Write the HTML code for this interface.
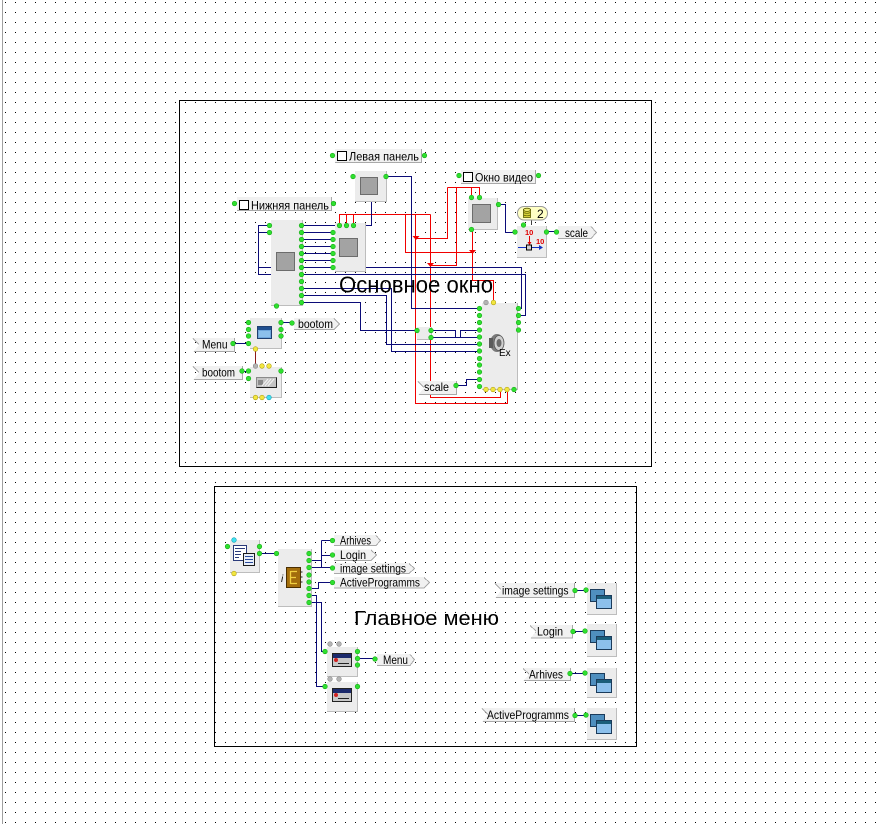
<!DOCTYPE html>
<html><head><meta charset="utf-8">
<style>
html,body{margin:0;padding:0;background:#fff;}
svg{display:block;}
text{font-family:"Liberation Sans","DejaVu Sans",sans-serif;fill:#000;}
.lb{font-size:12px;}
.bk{fill:#ececec;}
.bs{fill:none;stroke:#bdbdbd;}
.sq{fill:#a3a3a3;stroke:#6c6c6c;}
.lab{fill:#f1f1f1;}
.lbs{fill:none;stroke:#a9a9a9;}
.g{fill:#2fe02f;stroke:#1aa81a;stroke-width:.6;}
.y{fill:#f2e640;stroke:#b0a010;stroke-width:.6;}
.gr{fill:#b4b4b4;stroke:#888;stroke-width:.6;}
.c{fill:#3fe0f0;stroke:#1a9fb0;stroke-width:.6;}
.bw{fill:none;stroke:#0b0b78;stroke-width:1;}
.rw{fill:none;stroke:#f00000;stroke-width:1;}
</style></head><body>
<svg width="877" height="824" viewBox="0 0 877 824" xmlns="http://www.w3.org/2000/svg">
<defs>
<pattern id="grid" x="5" y="2" width="10" height="10" patternUnits="userSpaceOnUse"><rect width="1" height="1" fill="#000"/></pattern>
</defs>
<rect width="877" height="824" fill="#fff"/>
<rect width="877" height="824" fill="url(#grid)"/>
<rect x="2" y="0" width="1" height="824" fill="#a0a0a0"/>

<!-- frames -->
<rect x="179.5" y="100.5" width="472" height="366" fill="none" stroke="#000" shape-rendering="crispEdges"/>
<rect x="214.5" y="486.5" width="422" height="260" fill="none" stroke="#000" shape-rendering="crispEdges"/>

<!-- ===== FRAME 1 WIRES ===== -->
<g shape-rendering="crispEdges">
<!-- red -->
<path class="rw" d="M339.5,225 V214.5 H430.5 M346.5,225 V214.5 M353.5,225 V214.5"/>
<path class="rw" d="M405.5,214.5 V252.5 H472.5"/>
<path class="rw" d="M472.5,229 V280.5 H493.5 V302"/>
<path class="rw" d="M415.5,214.5 V403.5 H507.5 V390"/>
<path class="rw" d="M430.5,214.5 V397.5 H500.5 V390"/>
<path class="rw" d="M447.5,187.5 H479.5 V197 M471.5,197 V187.5 M447.5,187.5 V238.5 H415.5"/>
<path class="rw" d="M456.5,187.5 V265.5 H430.5"/>
<!-- blue -->
<path class="bw" d="M386,176.5 H411.5 V308.5 H480"/>
<path class="bw" d="M371.5,202 V225.5 H353"/>
<path class="bw" d="M269,225.5 H258.5 V274.5 H272 M269,232.5 H258.5 M258.5,267.5 H272"/>
<path class="bw" d="M302,225.5 H339 M302,232.5 H333 M302,239.5 H333 M302,246.5 H333 M302,253.5 H333 M302,260.5 H333 M302,267.5 H333"/>
<path class="bw" d="M366,267.5 H521.5 V308.5 H518"/>
<path class="bw" d="M302,274.5 H525.5 V315.5 H518"/>
<path class="bw" d="M302,288.5 H391.5 V351.5 H480"/>
<path class="bw" d="M302,295.5 H386.5 V344.5 H480"/>
<path class="bw" d="M302,302.5 H360.5 V330.5 H417"/>
<path class="bw" d="M431,330.5 H455.5 V337.5 M431,337.5 H480 M460.5,337.5 V330.5 H480"/>
<path class="bw" d="M498,204.5 H505.5 V232.5 H515"/>
<path class="bw" d="M456,385.5 H466.5 V379.5 H480"/>
<path class="bw" d="M233,343.5 H248 M242,371.5 H248 M281,322.5 H292"/>
<path class="bw" d="M547,231.5 H557"/>
<path d="M255.5,349 V366" stroke="#8b1a1a" fill="none"/>
<path d="M531.5,220 V225" stroke="#404040" fill="none"/>
</g>
<!-- red junction arrows -->
<g fill="#f00000">
<polygon points="412.5,236 419.5,236 416,240"/>
<polygon points="469,250 476,250 472.5,254"/>
<polygon points="427,263 434,263 430.5,267"/>
</g>

<!-- title -->
<text x="339" y="292.5" font-size="23" textLength="154" lengthAdjust="spacingAndGlyphs">Основное окно</text>

<!-- ===== FRAME 1 COMPONENTS ===== -->
<g shape-rendering="crispEdges">
<rect class="lab" x="335" y="149" width="87" height="14"/>
<path class="lbs" d="M335,162.5 H421.5 V149"/>
<rect x="337.5" y="151.5" width="9" height="9" fill="#fff" stroke="#000"/>
<rect class="lab" x="237" y="197" width="95" height="14"/>
<path class="lbs" d="M237,210.5 H331.5 V197"/>
<rect x="239.5" y="200.5" width="9" height="9" fill="#fff" stroke="#000"/>
<rect class="lab" x="461" y="170" width="75" height="14"/>
<path class="lbs" d="M461,183.5 H535.5 V170"/>
<rect x="463.5" y="172.5" width="9" height="9" fill="#fff" stroke="#000"/>

<rect class="bk" x="355" y="171" width="32" height="31"/>
<path class="bs" d="M355,201.5 H386.5 V171"/>
<rect class="sq" x="360.5" y="177.5" width="17" height="17"/>
<rect class="bk" x="271" y="220" width="32" height="86"/>
<path class="bs" d="M271,305.5 H302.5 V220"/>
<rect class="sq" x="276.5" y="252.5" width="18" height="18"/>
<rect class="bk" x="335" y="223" width="31" height="49"/>
<path class="bs" d="M335,271.5 H365.5 V223"/>
<rect class="sq" x="339.5" y="238.5" width="18" height="18"/>
<rect class="bk" x="468" y="198" width="30" height="32"/>
<path class="bs" d="M468,229.5 H497.5 V198"/>
<rect class="sq" x="472.5" y="204.5" width="18" height="18"/>
<rect class="bk" x="517" y="226" width="30" height="32"/>
<path class="bs" d="M517,257.5 H546.5 V226"/>
<rect class="bk" x="482" y="303" width="36" height="87"/>
<path class="bs" d="M482,389.5 H517.5 V303"/>
<rect class="bk" x="417" y="327" width="15" height="13"/>
<path class="bs" d="M417,339.5 H431.5 V327"/>
<rect class="bk" x="250" y="318" width="32" height="31"/>
<path class="bs" d="M250,348.5 H281.5 V318"/>
<rect class="bk" x="250" y="367" width="32" height="31"/>
<path class="bs" d="M250,397.5 H281.5 V367"/>

<polygon class="lab" points="294,318 334,318 340,324 334,330 294,330"/>
<polyline class="lbs" points="294,329.5 334,329.5 339.5,324 334,318.5"/>
<polygon class="lab" points="558,226 591,226 597,232.5 591,239 558,239"/>
<polyline class="lbs" points="558,238.5 591,238.5 596.5,232.5 591,226.5"/>
<polygon class="lab" points="193,338 235,338 235,352 193,352 199,345"/>
<path class="lbs" d="M193,338.5 L199,344.5 M194,351.5 H234.5 V338"/>
<polygon class="lab" points="193,366 243,366 243,380 193,380 199,373"/>
<path class="lbs" d="M193,366.5 L199,372.5 M194,379.5 H242.5 V366"/>
<polygon class="lab" points="418,381 457,381 457,395 418,395 424,388"/>
<path class="lbs" d="M418,381.5 L424,387.5 M419,394.5 H456.5 V381"/>
</g>

<!-- icons frame 1 -->
<rect x="517.5" y="206.5" width="30" height="13.5" rx="6.5" fill="#ffffc4" stroke="#9a9a9a"/>
<rect x="523.5" y="209.5" width="7" height="8" fill="#d8d43a" stroke="#5a5a00" stroke-width=".8"/>
<ellipse cx="527" cy="209.8" rx="3.5" ry="1.6" fill="#ecea70" stroke="#5a5a00" stroke-width=".8"/>
<path d="M523.5,212.5 q3.5,1.6 7,0 M523.5,215 q3.5,1.6 7,0" stroke="#5a5a00" stroke-width=".7" fill="none"/>
<text x="537" y="218" font-size="12">2</text>
<text x="525" y="235" font-size="7.5" font-weight="bold" style="fill:#e00000">10</text>
<path d="M529.5,236 V244" stroke="#e00000"/>
<polygon points="527.5,242 531.5,242 529.5,245" fill="#e00000"/>
<path d="M518,247.5 H541" stroke="#1030c0"/>
<polygon points="539,245 543,247.5 539,250" fill="#1030c0"/>
<rect x="526.5" y="245" width="5" height="5" fill="#d0d0d0" stroke="#000" stroke-width="1"/>
<text x="536" y="244" font-size="7.5" font-weight="bold" style="fill:#e00000">10</text>
<!-- Ex speaker -->
<ellipse cx="497" cy="343" rx="7" ry="9" fill="#7a7a7a"/>
<ellipse cx="499" cy="343" rx="5" ry="7.5" fill="#cfcfcf" stroke="#555" stroke-width=".8"/>
<ellipse cx="499" cy="343" rx="2.5" ry="4" fill="#6a6a6a"/>
<path d="M489,338 h4 v10 h-4 z" fill="#5a5a5a"/>
<text x="499" y="356" font-size="10">Ex</text>
<!-- menu window icon -->
<rect x="257.5" y="326.5" width="14" height="12" fill="#6fa6dc" stroke="#1f3f6f"/>
<rect x="258" y="327" width="13" height="3" fill="#1f4f8f"/>
<rect x="259" y="331" width="11" height="6" fill="#8cc0ec"/>
<!-- bootom progress icon -->
<rect x="256.5" y="377.5" width="20" height="10" fill="#c4c4c4" stroke="#8a8a8a"/>
<path d="M256.5,387.5 H276.5 V377.5" stroke="#222" fill="none"/>
<rect x="258" y="380" width="5" height="5" fill="#8a8a8a"/>
<path d="M265,386 l6,-7 M268,386 l6,-7 M262,386 l6,-7" stroke="#f0f0f0" stroke-width="1.2"/>

<!-- labels text frame 1 -->
<text class="lb" x="349" y="160.5" textLength="70" lengthAdjust="spacingAndGlyphs">Левая панель</text>
<text class="lb" x="251" y="209.5" textLength="78" lengthAdjust="spacingAndGlyphs">Нижняя панель</text>
<text class="lb" x="475" y="181.5" textLength="58" lengthAdjust="spacingAndGlyphs">Окно видео</text>
<text class="lb" x="565" y="237" textLength="23" lengthAdjust="spacingAndGlyphs">scale</text>
<text class="lb" x="298" y="328" textLength="35" lengthAdjust="spacingAndGlyphs">bootom</text>
<text class="lb" x="202" y="348.5" textLength="25.5" lengthAdjust="spacingAndGlyphs">Menu</text>
<text class="lb" x="202" y="376.5" textLength="33" lengthAdjust="spacingAndGlyphs">bootom</text>
<text class="lb" x="424" y="391" textLength="25" lengthAdjust="spacingAndGlyphs">scale</text>

<!-- dots frame 1 -->
<g>
<circle class="g" cx="332.5" cy="155.5" r="2.3"/><circle class="g" cx="424.5" cy="155.5" r="2.3"/>
<circle class="g" cx="353" cy="176.5" r="2.3"/><circle class="g" cx="386" cy="176.5" r="2.3"/>
<circle class="g" cx="234.5" cy="203.5" r="2.3"/><circle class="g" cx="333.5" cy="203.5" r="2.3"/>
<circle class="g" cx="269.5" cy="225.5" r="2.3"/><circle class="g" cx="269.5" cy="232.5" r="2.3"/>
<circle class="g" cx="301.5" cy="225.5" r="2.3"/><circle class="g" cx="301.5" cy="232.5" r="2.3"/>
<circle class="g" cx="301.5" cy="239.5" r="2.3"/><circle class="g" cx="301.5" cy="246.5" r="2.3"/>
<circle class="g" cx="301.5" cy="253.5" r="2.3"/><circle class="g" cx="301.5" cy="260.5" r="2.3"/>
<circle class="g" cx="301.5" cy="267.5" r="2.3"/><circle class="g" cx="301.5" cy="274.5" r="2.3"/>
<circle class="g" cx="301.5" cy="281.5" r="2.3"/><circle class="g" cx="301.5" cy="288.5" r="2.3"/>
<circle class="g" cx="301.5" cy="295.5" r="2.3"/><circle class="g" cx="301.5" cy="302.5" r="2.3"/>
<circle class="g" cx="276.5" cy="306" r="2.3"/>
<circle class="g" cx="339.5" cy="225.5" r="2.3"/><circle class="g" cx="346.5" cy="225.5" r="2.3"/><circle class="g" cx="353.5" cy="225.5" r="2.3"/>
<circle class="g" cx="333" cy="232.5" r="2.3"/><circle class="g" cx="333" cy="239.5" r="2.3"/>
<circle class="g" cx="333" cy="246.5" r="2.3"/><circle class="g" cx="333" cy="253.5" r="2.3"/>
<circle class="g" cx="333" cy="260.5" r="2.3"/><circle class="g" cx="333" cy="267.5" r="2.3"/>
<circle class="g" cx="459" cy="175.5" r="2.3"/><circle class="g" cx="538.5" cy="175.5" r="2.3"/>
<circle class="g" cx="471.5" cy="197.5" r="2.3"/><circle class="g" cx="479.5" cy="197.5" r="2.3"/>
<circle class="g" cx="498.5" cy="204.5" r="2.3"/><circle class="g" cx="471.5" cy="229.5" r="2.3"/>
<circle class="g" cx="515" cy="232" r="2.3"/><circle class="g" cx="523.5" cy="225" r="2.3"/>
<circle class="g" cx="546.5" cy="232" r="2.3"/><circle class="g" cx="556.5" cy="232" r="2.3"/>
<circle class="g" cx="479.5" cy="308.5" r="2.3"/><circle class="g" cx="479.5" cy="315.5" r="2.3"/>
<circle class="g" cx="479.5" cy="322.5" r="2.3"/><circle class="g" cx="479.5" cy="330" r="2.3"/>
<circle class="g" cx="479.5" cy="337" r="2.3"/><circle class="g" cx="479.5" cy="344" r="2.3"/>
<circle class="g" cx="479.5" cy="351" r="2.3"/><circle class="g" cx="479.5" cy="358.5" r="2.3"/>
<circle class="g" cx="479.5" cy="365" r="2.3"/><circle class="g" cx="479.5" cy="372" r="2.3"/>
<circle class="g" cx="479.5" cy="379.5" r="2.3"/><circle class="g" cx="479.5" cy="386.5" r="2.3"/>
<circle class="g" cx="518.5" cy="308.5" r="2.3"/><circle class="g" cx="518.5" cy="315.5" r="2.3"/>
<circle class="g" cx="518.5" cy="322.5" r="2.3"/><circle class="g" cx="518.5" cy="330" r="2.3"/>
<circle class="g" cx="514" cy="389.5" r="2.3"/>
<circle class="gr" cx="486" cy="302.5" r="2.3"/><circle class="y" cx="493.5" cy="302.5" r="2.3"/>
<circle class="y" cx="486" cy="389.5" r="2.3"/><circle class="y" cx="493" cy="389.5" r="2.3"/>
<circle class="y" cx="500" cy="389.5" r="2.3"/><circle class="y" cx="507" cy="389.5" r="2.3"/>
<circle class="g" cx="417" cy="330.5" r="2.3"/><circle class="g" cx="431" cy="330.5" r="2.3"/><circle class="g" cx="431" cy="337.5" r="2.3"/>
<circle class="g" cx="456" cy="385.5" r="2.3"/>
<circle class="g" cx="248.5" cy="322.5" r="2.3"/><circle class="g" cx="248.5" cy="329.5" r="2.3"/>
<circle class="g" cx="248.5" cy="336" r="2.3"/><circle class="g" cx="248.5" cy="343.5" r="2.3"/>
<circle class="g" cx="281" cy="322.5" r="2.3"/><circle class="g" cx="281" cy="329.5" r="2.3"/><circle class="g" cx="281" cy="336" r="2.3"/>
<circle class="y" cx="255.5" cy="349" r="2.3"/>
<circle class="g" cx="292" cy="323" r="2.3"/><circle class="g" cx="233" cy="343.5" r="2.3"/>
<circle class="gr" cx="255.5" cy="366" r="2.3"/><circle class="y" cx="262" cy="366" r="2.3"/><circle class="y" cx="269" cy="366" r="2.3"/>
<circle class="g" cx="248.5" cy="371" r="2.3"/><circle class="g" cx="248.5" cy="378.5" r="2.3"/><circle class="g" cx="281" cy="371" r="2.3"/>
<circle class="y" cx="255.5" cy="397.5" r="2.3"/><circle class="y" cx="262" cy="397.5" r="2.3"/><circle class="c" cx="269" cy="397.5" r="2.3"/>
<circle class="g" cx="242" cy="371" r="2.3"/>
</g>

<!-- ===== FRAME 2 ===== -->
<g shape-rendering="crispEdges">
<path class="bw" d="M260,553.5 H277"/>
<path class="bw" d="M309,560.5 H321.5 M309,567.5 H321.5 M321.5,540.5 V567.5 M321.5,540.5 H332 M321.5,555.5 H332 M321.5,567.5 H332"/>
<path class="bw" d="M309,588.5 H318.5 V582.5 H332"/>
<path class="bw" d="M309,595.5 H316.5 V686.5 H325"/>
<path class="bw" d="M309,602.5 H321.5 V651.5 H325"/>
<path class="bw" d="M358,658.5 H375"/>
<path class="bw" d="M575,590.5 H586 M573,631.5 H585 M570,673.5 H585 M575,715.5 H586"/>
</g>

<text x="354" y="625" font-size="20" textLength="145" lengthAdjust="spacingAndGlyphs">Главное меню</text>

<g shape-rendering="crispEdges">
<rect class="bk" x="230" y="540" width="30" height="33"/>
<path class="bs" d="M230,572.5 H259.5 V540"/>
<rect class="bk" x="278" y="549" width="34" height="58"/>
<path class="bs" d="M278,606.5 H311.5 V549"/>
<rect class="bk" x="327" y="647" width="31" height="30"/>
<path class="bs" d="M327,676.5 H357.5 V647"/>
<rect class="bk" x="327" y="682" width="31" height="30"/>
<path class="bs" d="M327,711.5 H357.5 V682"/>
<rect class="bk" x="587" y="583" width="30" height="32"/>
<path class="bs" d="M587,614.5 H616.5 V583"/>
<rect class="bk" x="587" y="624" width="30" height="33"/>
<path class="bs" d="M587,656.5 H616.5 V624"/>
<rect class="bk" x="587" y="668" width="30" height="30"/>
<path class="bs" d="M587,697.5 H616.5 V668"/>
<rect class="bk" x="587" y="708" width="30" height="32"/>
<path class="bs" d="M587,739.5 H616.5 V708"/>

<polygon class="lab" points="334,535 376,535 381,540.5 376,546 334,546"/>
<polyline class="lbs" points="334,545.5 376,545.5 380.5,540.5 376,535.5"/>
<polygon class="lab" points="334,549.5 371,549.5 377,555 371,561 334,561"/>
<polyline class="lbs" points="334,560.5 371,560.5 376.5,555 371,550"/>
<polygon class="lab" points="334,563 409,563 415,568.5 409,574 334,574"/>
<polyline class="lbs" points="334,573.5 409,573.5 414.5,568.5 409,563.5"/>
<polygon class="lab" points="334,577 424,577 430,582.5 424,588.5 334,588.5"/>
<polyline class="lbs" points="334,588 424,588 429.5,582.5 424,577.5"/>
<polygon class="lab" points="377,654 410,654 415,659.5 410,666 377,666"/>
<polyline class="lbs" points="377,665.5 410,665.5 414.5,659.5 410,654.5"/>

<polygon class="lab" points="495,583 575,583 575,598 495,598 501,590.5"/>
<path class="lbs" d="M495,583.5 L501,589.5 M496,597.5 H574.5 V583"/>
<polygon class="lab" points="530,625 573,625 573,638.5 530,638.5 536,631.5"/>
<path class="lbs" d="M530,625.5 L536,631 M531,638 H572.5 V625"/>
<polygon class="lab" points="523,668 571,668 571,681 523,681 529,674.5"/>
<path class="lbs" d="M523,668.5 L529,674 M524,680.5 H570.5 V668"/>
<polygon class="lab" points="482,708 575,708 575,722 482,722 488,715"/>
<path class="lbs" d="M482,708.5 L488,714.5 M483,721.5 H574.5 V708"/>
</g>

<!-- frame 2 icons -->
<rect x="233.5" y="545.5" width="13" height="15" fill="#fff" stroke="#2a3a7a"/>
<path d="M235,548.5 h10 M235,551.5 h6 M235,554.5 h6 M235,557.5 h4" stroke="#2a3a7a"/>
<rect x="243.5" y="553.5" width="11" height="12" fill="#e8eef8" stroke="#1a1a1a"/>
<path d="M245,556.5 h8 M245,559.5 h8 M245,562.5 h8" stroke="#2a4a9a"/>
<text x="281" y="582" font-size="10" font-style="italic" font-family="Liberation Serif,serif">i</text>
<rect x="286.5" y="567.5" width="14" height="20" fill="#a26d0c" stroke="#4a2e00"/>
<path d="M290.5,571 V584 M290.5,571.5 H297 M290.5,577.5 H296 M290.5,583.5 H297" stroke="#f0d040" stroke-width="1.3" fill="none"/>
<path d="M300.5,572 h2 M300.5,577 h2 M300.5,582 h2" stroke="#222"/>
<g>
<rect x="332.5" y="653.5" width="19" height="13" fill="#c8c8c8" stroke="#222"/>
<rect x="333" y="654" width="18" height="4" fill="#1c2a6c"/>
<circle cx="336" cy="660" r="2" fill="#d02020"/>
<path d="M338,663.5 h11" stroke="#222"/>
<rect x="332.5" y="688.5" width="19" height="13" fill="#c8c8c8" stroke="#222"/>
<rect x="333" y="689" width="18" height="4" fill="#1c2a6c"/>
<circle cx="336" cy="695" r="2" fill="#d02020"/>
<path d="M338,698.5 h11" stroke="#222"/>
</g>
<g stroke="#1b3b5b">
<rect x="590.5" y="589.5" width="14" height="12" fill="#4f8fbf"/><rect x="596.5" y="595.5" width="15" height="13" fill="#8cc0ec"/><rect x="597" y="596" width="14" height="3" fill="#1b5e7a" stroke="none"/>
<rect x="590.5" y="630.5" width="14" height="12" fill="#4f8fbf"/><rect x="596.5" y="636.5" width="15" height="13" fill="#8cc0ec"/><rect x="597" y="637" width="14" height="3" fill="#1b5e7a" stroke="none"/>
<rect x="590.5" y="673.5" width="14" height="12" fill="#4f8fbf"/><rect x="596.5" y="679.5" width="15" height="13" fill="#8cc0ec"/><rect x="597" y="680" width="14" height="3" fill="#1b5e7a" stroke="none"/>
<rect x="590.5" y="714.5" width="14" height="12" fill="#4f8fbf"/><rect x="596.5" y="720.5" width="15" height="13" fill="#8cc0ec"/><rect x="597" y="721" width="14" height="3" fill="#1b5e7a" stroke="none"/>
</g>

<text class="lb" x="340" y="544.5" textLength="31" lengthAdjust="spacingAndGlyphs">Arhives</text>
<text class="lb" x="340" y="559" textLength="26" lengthAdjust="spacingAndGlyphs">Login</text>
<text class="lb" x="340" y="572.5" textLength="66" lengthAdjust="spacingAndGlyphs">image settings</text>
<text class="lb" x="340" y="586.5" textLength="80" lengthAdjust="spacingAndGlyphs">ActiveProgramms</text>
<text class="lb" x="383" y="664" textLength="25" lengthAdjust="spacingAndGlyphs">Menu</text>
<text class="lb" x="502" y="594.5" textLength="66.5" lengthAdjust="spacingAndGlyphs">image settings</text>
<text class="lb" x="537" y="635.5" textLength="26" lengthAdjust="spacingAndGlyphs">Login</text>
<text class="lb" x="529" y="678.5" textLength="34" lengthAdjust="spacingAndGlyphs">Arhives</text>
<text class="lb" x="487" y="719" textLength="82" lengthAdjust="spacingAndGlyphs">ActiveProgramms</text>

<g>
<circle class="c" cx="234" cy="540" r="2.3"/><circle class="g" cx="227.5" cy="546.5" r="2.3"/>
<circle class="g" cx="259.5" cy="546.5" r="2.3"/><circle class="g" cx="259.5" cy="553.5" r="2.3"/>
<circle class="y" cx="234" cy="573.5" r="2.3"/>
<circle class="g" cx="276.5" cy="553.5" r="2.3"/>
<circle class="g" cx="309" cy="553.5" r="2.3"/><circle class="g" cx="309" cy="560.5" r="2.3"/>
<circle class="g" cx="309" cy="567.5" r="2.3"/><circle class="g" cx="309" cy="575" r="2.3"/>
<circle class="g" cx="309" cy="582" r="2.3"/><circle class="g" cx="309" cy="588.5" r="2.3"/>
<circle class="g" cx="309" cy="595.5" r="2.3"/><circle class="g" cx="309" cy="602.5" r="2.3"/>
<circle class="g" cx="332.5" cy="540.5" r="2.3"/><circle class="g" cx="332.5" cy="555" r="2.3"/>
<circle class="g" cx="332.5" cy="568" r="2.3"/><circle class="g" cx="332.5" cy="582.5" r="2.3"/>
<circle class="gr" cx="330" cy="644" r="2.3"/><circle class="gr" cx="339" cy="644" r="2.3"/>
<circle class="g" cx="325" cy="651.5" r="2.3"/>
<circle class="g" cx="357.5" cy="651.5" r="2.3"/><circle class="g" cx="357.5" cy="658.5" r="2.3"/><circle class="g" cx="357.5" cy="665" r="2.3"/>
<circle class="g" cx="375" cy="659" r="2.3"/>
<circle class="gr" cx="330" cy="679" r="2.3"/><circle class="gr" cx="339" cy="679" r="2.3"/>
<circle class="g" cx="325" cy="686.5" r="2.3"/><circle class="g" cx="357.5" cy="686.5" r="2.3"/>
<circle class="g" cx="575" cy="590.5" r="2.3"/><circle class="g" cx="586" cy="590" r="2.3"/>
<circle class="g" cx="573" cy="631.5" r="2.3"/><circle class="g" cx="585" cy="631" r="2.3"/>
<circle class="g" cx="570" cy="673.5" r="2.3"/><circle class="g" cx="585" cy="673" r="2.3"/>
<circle class="g" cx="575" cy="715.5" r="2.3"/><circle class="g" cx="586" cy="715" r="2.3"/>
</g>
</svg>
</body></html>
